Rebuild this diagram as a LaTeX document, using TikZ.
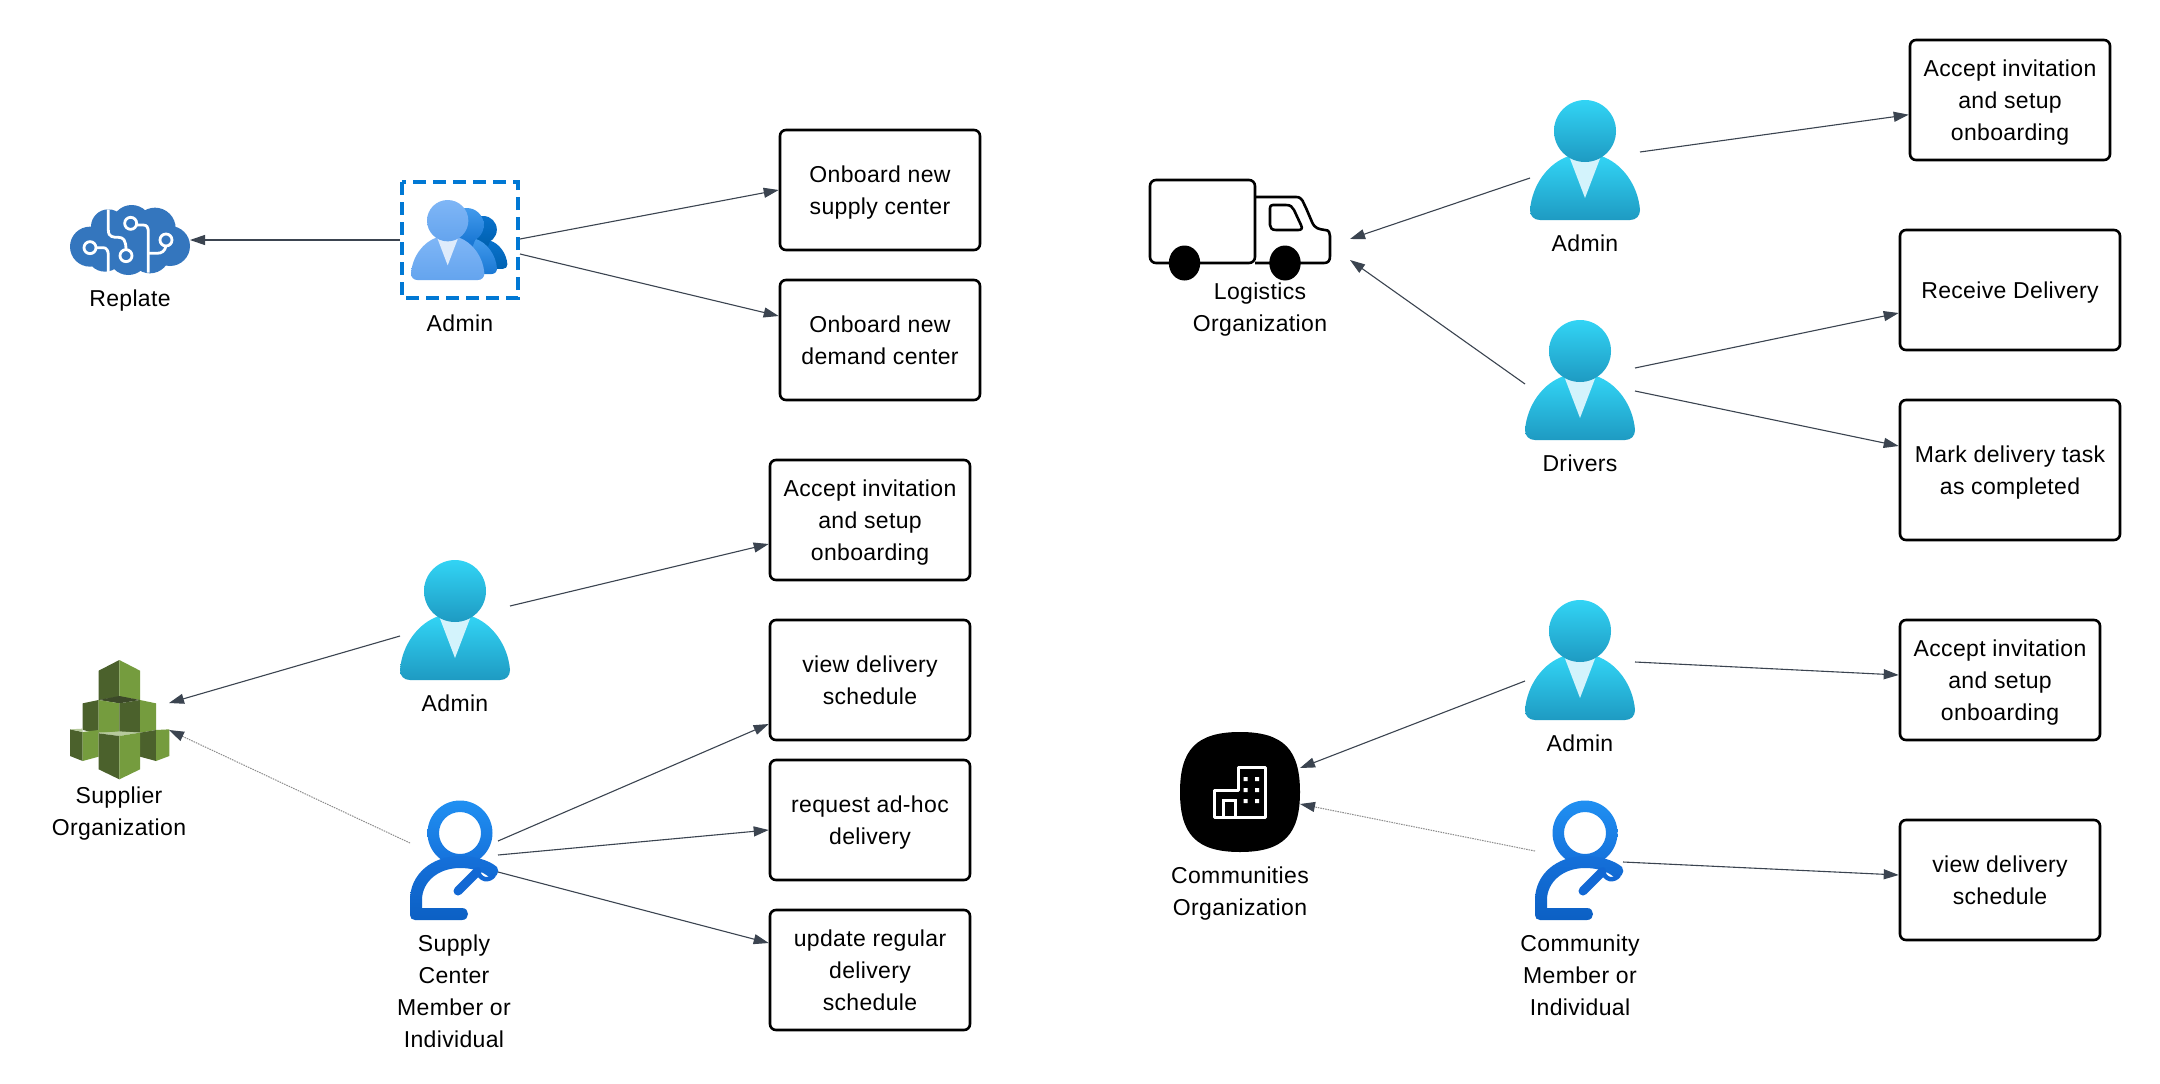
\documentclass[tikz,border=0pt]{standalone}
\usepackage{fontspec}
\setmainfont[LetterSpace=1.5]{Liberation Sans}
\usetikzlibrary{arrows.meta}
\definecolor{edge}{HTML}{3B4450}
\definecolor{pTop}{HTML}{32D4F5}
\definecolor{pBot}{HTML}{1E9AC2}
\definecolor{pCol}{HTML}{D3F3FC}
\definecolor{awsD}{HTML}{4B612C}
\definecolor{awsL}{HTML}{759C3E}
\definecolor{awsT}{HTML}{3C4929}
\definecolor{awsP}{HTML}{B7CA9D}
\definecolor{brain}{HTML}{3476BE}
\definecolor{seek}{HTML}{1268D4}
\definecolor{seekT}{HTML}{2090F2}
\definecolor{seekM}{HTML}{1570DA}
\definecolor{seekB}{HTML}{0C60C4}
\definecolor{dashblue}{HTML}{0078D4}
\definecolor{gTop}{HTML}{0A72CC}
\definecolor{gBot}{HTML}{0062B2}
\definecolor{mTop}{HTML}{429AEC}
\definecolor{mBot}{HTML}{1A78D4}
\definecolor{fTop}{HTML}{7FB6F6}
\definecolor{fBot}{HTML}{64A4EE}
\definecolor{fCol}{HTML}{DEEBFB}
\tikzset{
  txt/.style={font=\fontsize{23}{32}\selectfont, align=center, inner sep=0pt, text=black, text depth=0pt},
  boxnode/.style={txt, draw=black, line width=2.6pt, rounded corners=6pt, minimum height=120pt},
  icon/.style={inner sep=0pt, outer sep=0pt, minimum width=110pt, minimum height=120pt},
  flow/.style={draw=edge, line width=1.1pt, -{Triangle[length=15pt,width=10pt,color=edge]}},
  faint/.style={draw=gray!90, line width=1pt, dash pattern=on 1.5pt off 1pt, -{Triangle[length=15pt,width=10pt,color=edge]}},
  zoomA/.style={x=0.33333pt, y=-0.33333pt}
}
% #1 origin, #2 scale, #3 top, #4 bottom, #5 collar
\newcommand{\PersonIcon}[5]{%
  \begin{scope}[shift={#1}, x=#2pt, y=-#2pt]
    \shade[top color=#3, bottom color=#4] (0,110) .. controls (2,85) and (18,63) .. (39,56) -- (55,70) -- (71,56) .. controls (92,63) and (108,85) .. (110,110) .. controls (110,116) and (106,120) .. (100,120) -- (10,120) .. controls (4,120) and (0,116) .. (0,110) -- cycle;
    \fill[#5] (39,56) -- (55,98) -- (71,56) -- cycle;
    \shade[top color=#3, bottom color=#4] (55,31) circle[radius=31];
  \end{scope}}
% #1 origin
\newcommand{\SeekIcon}[1]{%
  \begin{scope}[shift={#1}]
    \shade[even odd rule, top color=seekT, bottom color=seekM] (50,33) circle[radius=32.5] (50,33) circle[radius=21];
    \shade[top color=seekM, bottom color=seekB] (0,100) .. controls (0,74) and (22,56) .. (50,56) .. controls (64,56) and (79,60) .. (87,67) .. controls (91,72) and (85,80) .. (79,77) .. controls (72,71) and (62,68) .. (50,68) .. controls (28,68) and (12,82) .. (12,100) -- (12,108) -- (52,108) .. controls (60,108) and (60,120) .. (52,120) -- (5,120) .. controls (2,120) and (0,118) .. (0,115) -- cycle;
    \draw[seek, line width=9pt, line cap=round] (48,91) -- (67,72);
    \draw[seek, line width=4.5pt] (67,68) .. controls (69,82) and (80,81) .. (84,75);
  \end{scope}}
\begin{document}
\begin{tikzpicture}[x=1pt,y=-1pt]
\useasboundingbox (0,0) rectangle (2160,1084);
\fill[white] (0,0) rectangle (2160,1084);

% ---------- icon frames
\node[icon, minimum width=120pt, minimum height=70pt] (replate) at (130,240) {};
\node[icon, minimum width=120pt] (groupAdmin) at (460,240) {};
\node[icon] (supAdmin) at (455,620) {};
\node[icon, minimum width=88pt] (supMember) at (454,860) {};
\node[icon, minimum width=99pt, minimum height=119pt] (supOrg) at (119.5,719.5) {};
\node[icon, minimum width=200pt, minimum height=102pt] (truck) at (1250,230) {};
\node[icon] (logAdmin) at (1585,160) {};
\node[icon] (drivers) at (1580,380) {};
\node[icon] (comAdmin) at (1580,660) {};
\node[icon, minimum width=88pt] (comMember) at (1579,860) {};
\node[icon, minimum width=120pt] (comOrg) at (1240,792) {};

% ---------- brain
\begin{scope}[shift={(40,150)}, zoomA]
  \fill[brain] (150,290) circle[radius=60] (205,230) circle[radius=52] (275,225) circle[radius=60] (345,235) circle[radius=62] (390,288) circle[radius=60] (330,310) circle[radius=60] (265,315) circle[radius=60] (195,310) circle[radius=55] (270,270) circle[radius=80];
  \begin{scope}[white, line width=2.8pt]
    \draw (205,178) -- (205,240) .. controls (205,262) and (220,262) .. (235,262) .. controls (250,262) and (258,270) .. (258,300);
    \draw (258,317) circle[radius=18];
    \draw (150,293) circle[radius=18];
    \draw (168,293) -- (190,293) .. controls (200,293) and (205,303) .. (205,315) -- (205,368);
    \draw (272,220) circle[radius=18];
    \draw (290,225) -- (310,225) .. controls (320,225) and (325,232) .. (325,245) -- (325,368);
    \draw (378,270) circle[radius=18];
    \draw (378,288) .. controls (375,303) and (365,310) .. (350,310) -- (325,310);
  \end{scope}
\end{scope}

% ---------- group admin
\draw[dashblue, line width=3.2pt, dash pattern=on 13pt off 7pt] (402,182) rectangle (518,298);
\PersonIcon{(459,216)}{0.44}{gTop}{gBot}{gBot}
\PersonIcon{(436.5,208)}{0.55}{mTop}{mBot}{mBot}
\PersonIcon{(411,200)}{0.667}{fTop}{fBot}{fCol}

% ---------- persons
\PersonIcon{(400,560)}{1}{pTop}{pBot}{pCol}
\PersonIcon{(1530,100)}{1}{pTop}{pBot}{pCol}
\PersonIcon{(1525,320)}{1}{pTop}{pBot}{pCol}
\PersonIcon{(1525,600)}{1}{pTop}{pBot}{pCol}
\SeekIcon{(410,800)}
\SeekIcon{(1535,800)}

% ---------- AWS stack
\begin{scope}[shift={(40,540)}, zoomA]
  \fill[awsD] (176,392) -- (238,360) -- (238,470) -- (176,480) -- cycle;
  \fill[awsL] (238,360) -- (300,392) -- (300,480) -- (238,470) -- cycle;
  \fill[awsT] (176,480) -- (238,468) -- (300,480) -- (238,490) -- cycle;
  \fill[awsD] (128,490) -- (176,480) -- (176,580) -- (128,570) -- cycle;
  \fill[awsL] (176,480) -- (238,490) -- (238,578) -- (176,578) -- cycle;
  \fill[awsD] (238,490) -- (300,480) -- (300,578) -- (238,578) -- cycle;
  \fill[awsL] (300,480) -- (348,490) -- (348,570) -- (300,578) -- cycle;
  \fill[awsD] (90,568) -- (128,576) -- (128,663) -- (90,648) -- cycle;
  \fill[awsL] (128,576) -- (176,570) -- (176,650) -- (128,663) -- cycle;
  \fill[awsP] (90,568) -- (128,566) -- (128,576) -- cycle;
  \fill[awsD] (300,578) -- (348,570) -- (348,663) -- (300,650) -- cycle;
  \fill[awsL] (348,570) -- (388,568) -- (388,648) -- (348,663) -- cycle;
  \fill[awsP] (176,580) -- (238,574) -- (300,578) -- (238,588) -- cycle;
  \fill[awsD] (176,580) -- (238,588) -- (238,718) -- (176,688) -- cycle;
  \fill[awsL] (238,588) -- (300,578) -- (300,688) -- (238,718) -- cycle;
\end{scope}

% ---------- truck
\draw[black, line width=2.6pt, rounded corners=6pt] (1150,180) rectangle (1255,263);
\draw[black, line width=2.6pt, line join=round] (1255,197) -- (1296,197) .. controls (1303,197) and (1303,203) .. (1306,208) -- (1312,222) .. controls (1315,229) and (1319,229) .. (1325,230) .. controls (1329,230) and (1330,233) .. (1330,236) -- (1330,256) .. controls (1330,261) and (1328,263) .. (1324,263) -- (1255,263);
\draw[black, line width=2.6pt, line join=round] (1270,208) .. controls (1270,206) and (1271,205) .. (1273,205) -- (1286,205) .. controls (1291,205) and (1292,207) .. (1294,210) -- (1301,225) .. controls (1303,229) and (1301,230) .. (1298,230) -- (1276,230) .. controls (1272,230) and (1270,228) .. (1270,225) -- cycle;
\fill[black] (1184.5,263) ellipse[x radius=15.7, y radius=17.5];
\fill[black] (1285,263) ellipse[x radius=15.7, y radius=17.5];

% ---------- communities icon
\fill[black] (1240,732) .. controls (1284,732) and (1300,750) .. (1300,792) .. controls (1300,834) and (1284,852) .. (1240,852) .. controls (1196,852) and (1180,834) .. (1180,792) .. controls (1180,750) and (1196,732) .. (1240,732) -- cycle;
\begin{scope}[shift={(1160,710)}, zoomA]
  \draw[white, line width=3pt, line join=round] (234,240) -- (234,172) -- (316,172) -- (316,321) -- (164,321) -- (164,240) -- cycle;
  \draw[white, line width=3pt] (190,321) -- (190,272) -- (225,272) -- (225,321);
  \fill[white] (251,201) rectangle (263,213) (285,201) rectangle (297,213) (251,234) rectangle (263,246) (285,234) rectangle (297,246) (251,267) rectangle (263,279) (285,267) rectangle (297,279);
\end{scope}

% ---------- boxes
\node[boxnode, minimum width=200pt] (bSupply) at (880,190) {Onboard new\\supply center};
\node[boxnode, minimum width=200pt] (bDemand) at (880,340) {Onboard new\\demand center};
\node[boxnode, minimum width=200pt] (bAcceptS) at (870,520) {Accept invitation\\and setup\\onboarding};
\node[boxnode, minimum width=200pt] (bViewS) at (870,680) {view delivery\\schedule};
\node[boxnode, minimum width=200pt] (bRequest) at (870,820) {request ad-hoc\\delivery};
\node[boxnode, minimum width=200pt] (bUpdate) at (870,970) {update regular\\delivery\\schedule};
\node[boxnode, minimum width=200pt] (bAcceptL) at (2010,100) {Accept invitation\\and setup\\onboarding};
\node[boxnode, minimum width=220pt] (bReceive) at (2010,290) {Receive Delivery};
\node[boxnode, minimum width=220pt, minimum height=140pt] (bMark) at (2010,470) {Mark delivery task\\as completed};
\node[boxnode, minimum width=200pt] (bAcceptC) at (2000,680) {Accept invitation\\and setup\\onboarding};
\node[boxnode, minimum width=200pt] (bViewC) at (2000,880) {view delivery\\schedule};

% ---------- labels
\node[txt] (tReplate) at (130,298) {Replate};
\node[txt] (tGroup) at (460,323) {Admin};
\node[txt] (tSupAdmin) at (455,703) {Admin};
\node[txt] (tSupOrg) at (119,811) {Supplier\\Organization};
\node[txt] (tSupMember) at (454,991) {Supply\\Center\\Member or\\Individual};
\node[txt] (tTruck) at (1260,307) {Logistics\\Organization};
\node[txt] (tLogAdmin) at (1585,243) {Admin};
\node[txt] (tDrivers) at (1580,463) {Drivers};
\node[txt] (tComAdmin) at (1580,743) {Admin};
\node[txt] (tComOrg) at (1240,891) {Communities\\Organization};
\node[txt] (tComMember) at (1580,975) {Community\\Member or\\Individual};

% ---------- connectors
\draw[flow] (groupAdmin.west) -- (replate.east);
\draw[flow] ([yshift=1pt]groupAdmin.east) -- (bSupply.west);
\draw[flow] ([yshift=-14pt]groupAdmin.east) -- ([yshift=24pt]bDemand.west);
\draw[flow] ([yshift=-16pt]supAdmin.west) -- ([yshift=16.5pt]supOrg.east);
\draw[faint] ([yshift=17pt]supMember.west) -- ([yshift=-10.5pt]supOrg.east);
\draw[flow] ([yshift=14pt]supAdmin.east) -- ([yshift=-24pt]bAcceptS.west);
\draw[flow] ([yshift=19pt]supMember.east) -- ([yshift=-44pt]bViewS.west);
\draw[flow] ([yshift=5pt]supMember.east) -- ([yshift=-10pt]bRequest.west);
\draw[flow] ([yshift=-12pt]supMember.east) -- ([yshift=27pt]bUpdate.west);
\draw[flow] ([yshift=-18pt]logAdmin.west) -- ([yshift=-9pt]truck.east);
\draw[flow] ([yshift=-4pt]drivers.west) -- ([yshift=-30pt]truck.east);
\draw[flow] ([yshift=8pt]logAdmin.east) -- ([yshift=-14.7pt]bAcceptL.west);
\draw[flow] ([yshift=12pt]drivers.east) -- ([yshift=-23pt]bReceive.west);
\draw[flow] ([yshift=-11pt]drivers.east) -- ([yshift=24pt]bMark.west);
\draw[flow] ([yshift=-21pt]comAdmin.west) -- ([yshift=24pt]comOrg.east);
\draw[faint] ([yshift=9pt]comMember.west) -- ([yshift=-12pt]comOrg.east);
\draw[flow] ([yshift=-2pt]comAdmin.east) -- ([yshift=5pt]bAcceptC.west);
\draw[flow] ([yshift=-2pt]comMember.east) -- ([yshift=5pt]bViewC.west);
\end{tikzpicture}
\end{document}
